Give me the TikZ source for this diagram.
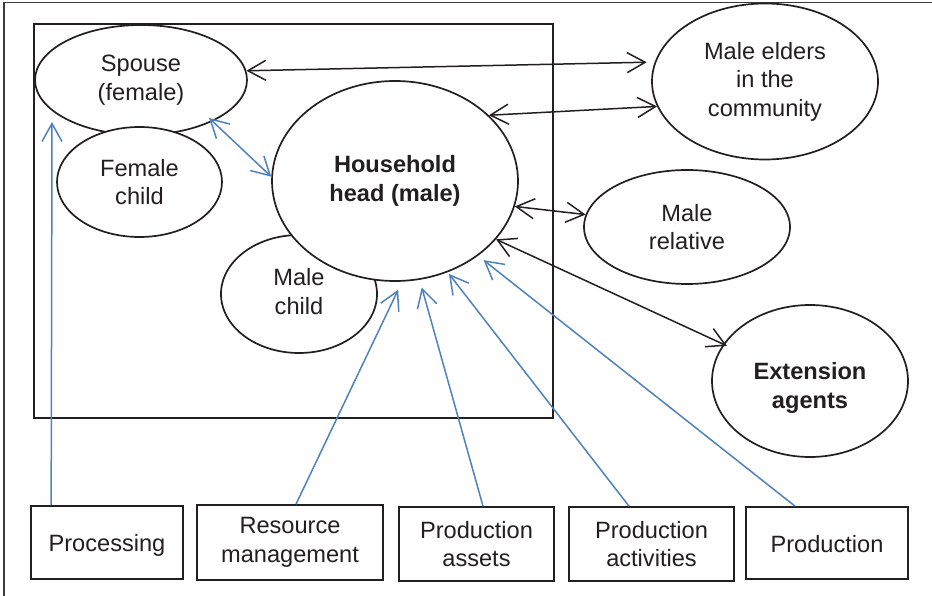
\documentclass[tikz,border=0pt]{standalone}
\usepackage{fontspec}
\setmainfont{Liberation Sans}
\usetikzlibrary{shapes.geometric,arrows.meta}
\definecolor{ink}{HTML}{231F20}
\definecolor{linkblue}{HTML}{4F81BD}
\definecolor{framegray}{HTML}{3A3A3A}
\tikzset{
  lbl/.style={font=\fontsize{23.6}{28.6}\selectfont, text=ink, align=center},
  boldlbl/.style={font=\fontsize{23.6}{28.6}\selectfont\bfseries},
  actor/.style={ellipse, draw=ink, line width=1.7pt, fill=white, inner sep=0pt, lbl},
  taskbox/.style={rectangle, draw=ink, line width=1.7pt, fill=white, inner sep=0pt, lbl},
  barb/.tip={Straight Barb[length=18pt,width=20pt]},
  tie/.style={draw=ink, line width=1.5pt, barb-barb},
  flow/.style={draw=linkblue, line width=1.5pt, -barb},
  flowboth/.style={draw=linkblue, line width=1.5pt, barb-barb},
}
\begin{document}
\begin{tikzpicture}[x=1pt,y=-1pt]
\useasboundingbox (0,0) rectangle (932,596);

% outer frame
\draw[framegray, line width=1.6pt] (4,600) -- (4,2.5) -- (940,2.5);

% household frame
\draw[ink, line width=2pt] (34,24) rectangle (553,418);

% household members
\node[actor, minimum width=212pt, minimum height=110pt] (spouse) at (141,80) {Spouse\\(female)};
\node[actor, minimum width=165pt, minimum height=110pt] (fchild) at (139.5,182) {Female\\child};
\node[actor, minimum width=156pt, minimum height=118pt, text depth=5pt] (mchild) at (299,294) {Male\\child};
\node[actor, minimum width=246pt, minimum height=200pt, boldlbl] (hh) at (395,181) {Household\\head (male)};

% outside actors
\node[actor, minimum width=226pt, minimum height=156pt] (elders) at (765,81.5) {Male elders\\in the\\community};
\node[actor, minimum width=206pt, minimum height=114pt] (relative) at (687,227) {Male\\relative};
\node[actor, minimum width=196pt, minimum height=152pt, boldlbl, text height=59pt] (ext) at (810,381) {Extension\\agents};

% activities
\node[taskbox, minimum width=152pt, minimum height=73pt, text height=22pt] (proc) at (107,542.5) {Processing};
\node[taskbox, minimum width=186pt, minimum height=75pt] (res) at (290,542.5) {Resource\\management};
\node[taskbox, minimum width=155pt, minimum height=74pt] (passets) at (476.5,544) {Production\\assets};
\node[taskbox, minimum width=165pt, minimum height=74pt] (pact) at (651.5,544) {Production\\activities};
\node[taskbox, minimum width=162pt, minimum height=72pt, text height=20pt] (prod) at (827,543) {Production};

% social ties
\draw[tie, shorten >=8pt] (spouse.5) -- (elders.170);
\draw[tie] (hh.35) -- (elders.-167);
\draw[tie] (hh.-12) -- (relative.173);
\draw[tie, shorten >=-4pt] (hh.-30) -- (ext.157);
\draw[flowboth, shorten <=-5pt] (spouse.-30) -- (hh.178);

% activity flows
\draw[flow] ([xshift=21pt]proc.north west) -- ([shift={(-89pt,-42pt)}]spouse.center);
\draw[flow, shorten >=9pt] ([xshift=6pt]res.north) -- (hh.-86);
\draw[flow, shorten >=8pt] ([xshift=6.5pt]passets.north) -- (hh.-76);
\draw[flow, shorten >=2pt] ([xshift=-22.5pt]pact.north) -- (hh.-60);
\draw[flow, shorten >=7pt] ([xshift=-32pt]prod.north) -- (hh.-42);
\end{tikzpicture}
\end{document}
